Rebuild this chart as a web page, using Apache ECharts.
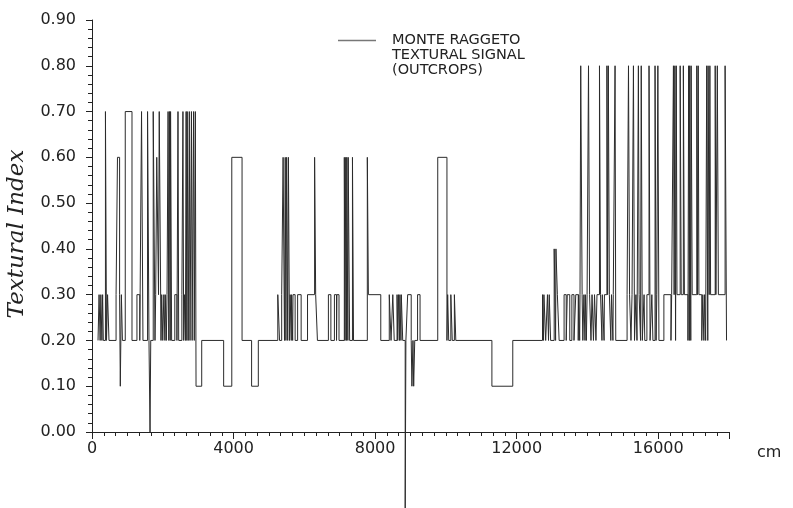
<!DOCTYPE html>
<html>
<head>
<meta charset="utf-8">
<script src="https://cdn.jsdelivr.net/npm/echarts@6/dist/echarts.min.js"></script>
<style>
html, body { margin: 0; padding: 0; background: #fff; }
#chart { width: 793px; height: 508px; }
</style>
</head>
<body>
<div id="chart"></div>
<script>
// breakpoints of the step signal: depth (cm) where a level starts, and that level
var depthCm = [
    170, 200, 230, 250, 280, 300, 320, 380, 410, 440, 480, 680,
    720, 780, 800, 830, 860, 940, 1130, 1270, 1350, 1400, 1440, 1570,
    1610, 1640, 1660, 1730, 1780, 1800, 1830, 1880, 1900, 1950, 1970, 2000,
    2030, 2060, 2070, 2100, 2120, 2150, 2170, 2190, 2210, 2220, 2250, 2340,
    2400, 2430, 2450, 2540, 2570, 2590, 2610, 2640, 2660, 2680, 2690, 2720,
    2750, 2770, 2810, 2830, 2870, 2890, 2920, 2940, 3100, 3720, 3950, 4240,
    4510, 4700, 5250, 5300, 5360, 5400, 5440, 5460, 5480, 5500, 5530, 5550,
    5580, 5600, 5630, 5640, 5670, 5680, 5740, 5810, 5910, 6090, 6290, 6320,
    6370, 6680, 6750, 6850, 6910, 6920, 6980, 7130, 7150, 7170, 7190, 7200,
    7230, 7240, 7280, 7360, 7390, 7780, 7810, 8160, 8400, 8450, 8500, 8540,
    8620, 8640, 8660, 8690, 8700, 8730, 8740, 8780, 8850, 8870, 8920, 9020,
    9040, 9070, 9090, 9120, 9200, 9270, 9770, 10030, 10050, 10080, 10140, 10180,
    10240, 10280, 11300, 11890, 12730, 12760, 12770, 12820, 12870, 12900, 12920, 12960,
    13060, 13100, 13110, 13150, 13200, 13340, 13400, 13430, 13500, 13560, 13620, 13670,
    13740, 13750, 13780, 13790, 13810, 13850, 13870, 13900, 13930, 13940, 13970, 13990,
    14030, 14060, 14100, 14130, 14170, 14200, 14240, 14270, 14340, 14370, 14410, 14420,
    14470, 14480, 14550, 14570, 14590, 14620, 14660, 14680, 14720, 14730, 14780, 14800,
    15120, 15160, 15190, 15230, 15260, 15300, 15330, 15370, 15400, 15440, 15460, 15500,
    15520, 15550, 15600, 15620, 15680, 15740, 15770, 15820, 15850, 15910, 15940, 15960,
    15990, 16020, 16160, 16360, 16380, 16430, 16450, 16470, 16490, 16510, 16530, 16620,
    16650, 16710, 16740, 16840, 16860, 16880, 16890, 16920, 16930, 16960, 17090, 17110,
    17130, 17150, 17230, 17260, 17290, 17310, 17340, 17370, 17400, 17410, 17440, 17460,
    17480, 17610, 17630, 17670, 17700, 17890, 17930
];
var texturalIndex = [
    0.2, 0.3, 0.2, 0.3, 0.2, 0.3, 0.2, 0.7, 0.2, 0.3, 0.2, 0.3,
    0.6, 0.3, 0.1, 0.3, 0.2, 0.7, 0.2, 0.3, 0.2, 0.7, 0.2, 0.7,
    0.2, 0.0, 0.2, 0.7, 0.2, 0.3, 0.6, 0.3, 0.7, 0.2, 0.3, 0.2,
    0.3, 0.2, 0.3, 0.2, 0.3, 0.7, 0.2, 0.7, 0.2, 0.7, 0.2, 0.3,
    0.2, 0.7, 0.2, 0.3, 0.7, 0.2, 0.3, 0.2, 0.7, 0.2, 0.7, 0.2,
    0.7, 0.2, 0.7, 0.2, 0.7, 0.2, 0.7, 0.1, 0.2, 0.1, 0.6, 0.2,
    0.1, 0.2, 0.3, 0.2, 0.3, 0.6, 0.2, 0.6, 0.2, 0.6, 0.2, 0.6,
    0.2, 0.3, 0.2, 0.3, 0.2, 0.3, 0.2, 0.3, 0.2, 0.3, 0.6, 0.3,
    0.2, 0.3, 0.2, 0.3, 0.2, 0.3, 0.2, 0.6, 0.2, 0.6, 0.2, 0.6,
    0.2, 0.6, 0.2, 0.6, 0.2, 0.6, 0.3, 0.2, 0.3, 0.2, 0.3, 0.2,
    0.3, 0.2, 0.3, 0.2, 0.3, 0.2, 0.3, 0.2, -0.17, 0.2, 0.3, 0.2,
    0.1, 0.2, 0.1, 0.2, 0.3, 0.2, 0.6, 0.2, 0.3, 0.2, 0.3, 0.2,
    0.3, 0.2, 0.1, 0.2, 0.3, 0.2, 0.3, 0.2, 0.3, 0.2, 0.3, 0.2,
    0.4, 0.2, 0.4, 0.3, 0.2, 0.3, 0.2, 0.3, 0.2, 0.3, 0.2, 0.3,
    0.2, 0.3, 0.2, 0.3, 0.8, 0.3, 0.2, 0.3, 0.2, 0.3, 0.2, 0.3,
    0.8, 0.3, 0.2, 0.3, 0.2, 0.3, 0.2, 0.3, 0.8, 0.3, 0.2, 0.3,
    0.2, 0.3, 0.8, 0.3, 0.8, 0.3, 0.2, 0.3, 0.2, 0.3, 0.8, 0.2,
    0.3, 0.8, 0.3, 0.2, 0.3, 0.8, 0.2, 0.3, 0.2, 0.8, 0.3, 0.2,
    0.8, 0.2, 0.3, 0.2, 0.3, 0.8, 0.2, 0.3, 0.2, 0.8, 0.2, 0.3,
    0.8, 0.2, 0.3, 0.2, 0.3, 0.8, 0.3, 0.8, 0.2, 0.8, 0.3, 0.8,
    0.3, 0.8, 0.3, 0.2, 0.8, 0.2, 0.8, 0.2, 0.8, 0.3, 0.8, 0.3,
    0.8, 0.3, 0.2, 0.3, 0.2, 0.3, 0.2, 0.8, 0.2, 0.8, 0.3, 0.8,
    0.3, 0.8, 0.3, 0.8, 0.3, 0.8, 0.2
];
var xTicks = [0, 4000, 8000, 12000, 16000];
var yTicks = [0, 0.1, 0.2, 0.3, 0.4, 0.5, 0.6, 0.7, 0.8, 0.9];
var seriesName = 'MONTE RAGGETO\nTEXTURAL SIGNAL\n(OUTCROPS)';

window.onload = function () {
    var myChart = echarts.init(document.getElementById('chart'));

    var signal = depthCm.map(function (d, i) {
        return [d, texturalIndex[i]];
    });

    var option = {
        animation: false,
        backgroundColor: '#fff',
        grid: {
            left: 92,
            right: 64,
            top: 20,
            bottom: 76,
            containLabel: false,
            outerBoundsMode: 'none'
        },
        legend: {
            left: 338,
            top: 3,
            padding: 0,
            selectedMode: false,
            icon: 'rect',
            itemWidth: 38,
            itemHeight: 1.5,
            itemStyle: { color: '#777' },
            data: [seriesName],
            // two blank lines so the icon sits beside the first line
            formatter: function (name) { return ' \n \n' + name; },
            textStyle: {
                fontFamily: 'DejaVu Sans',
                fontSize: 14.5,
                lineHeight: 15,
                color: '#222',
                padding: [0, 0, 0, 11]
            }
        },
        xAxis: {
            type: 'value',
            min: xTicks[0],
            max: 18000,
            interval: xTicks[1] - xTicks[0],
            name: 'cm',
            nameLocation: 'end',
            nameGap: 28,
            nameTextStyle: {
                fontFamily: 'DejaVu Sans',
                fontSize: 16,
                color: '#222',
                verticalAlign: 'top',
                padding: [13, 0, 0, 0]
            },
            axisLine: { lineStyle: { color: '#222', width: 1 } },
            axisTick: { length: 7, lineStyle: { color: '#222' } },
            minorTick: { show: true, splitNumber: 12, length: 4, lineStyle: { color: '#222' } },
            axisLabel: {
                margin: 9,
                showMaxLabel: false,
                fontFamily: 'DejaVu Sans',
                fontSize: 16,
                color: '#222',
                formatter: function (v) { return String(v); }
            },
            splitLine: { show: false }
        },
        yAxis: {
            type: 'value',
            min: yTicks[0],
            max: yTicks[yTicks.length - 1],
            interval: 0.1,
            name: 'Textural Index',
            nameLocation: 'middle',
            nameGap: 63,
            nameTextStyle: {
                fontFamily: 'DejaVu Serif',
                fontStyle: 'italic',
                fontSize: 23,
                color: '#222',
                padding: [0, 16, 0, 0]
            },
            axisLine: { show: true, lineStyle: { color: '#222', width: 1 } },
            axisTick: { show: true, length: 6, lineStyle: { color: '#222' } },
            minorTick: { show: true, splitNumber: 5, length: 4, lineStyle: { color: '#222' } },
            axisLabel: {
                margin: 16,
                fontFamily: 'DejaVu Sans',
                fontSize: 16,
                color: '#222',
                formatter: function (v) { return v.toFixed(2); }
            },
            splitLine: { show: false }
        },
        series: [
            {
                name: seriesName,
                type: 'line',
                step: 'end',
                data: signal,
                symbol: 'none',
                clip: false,
                lineStyle: { color: '#2b2b2b', width: 1 },
                itemStyle: { color: '#2b2b2b' }
            }
        ]
    };

    myChart.setOption(option);
};
</script>
</body>
</html>
